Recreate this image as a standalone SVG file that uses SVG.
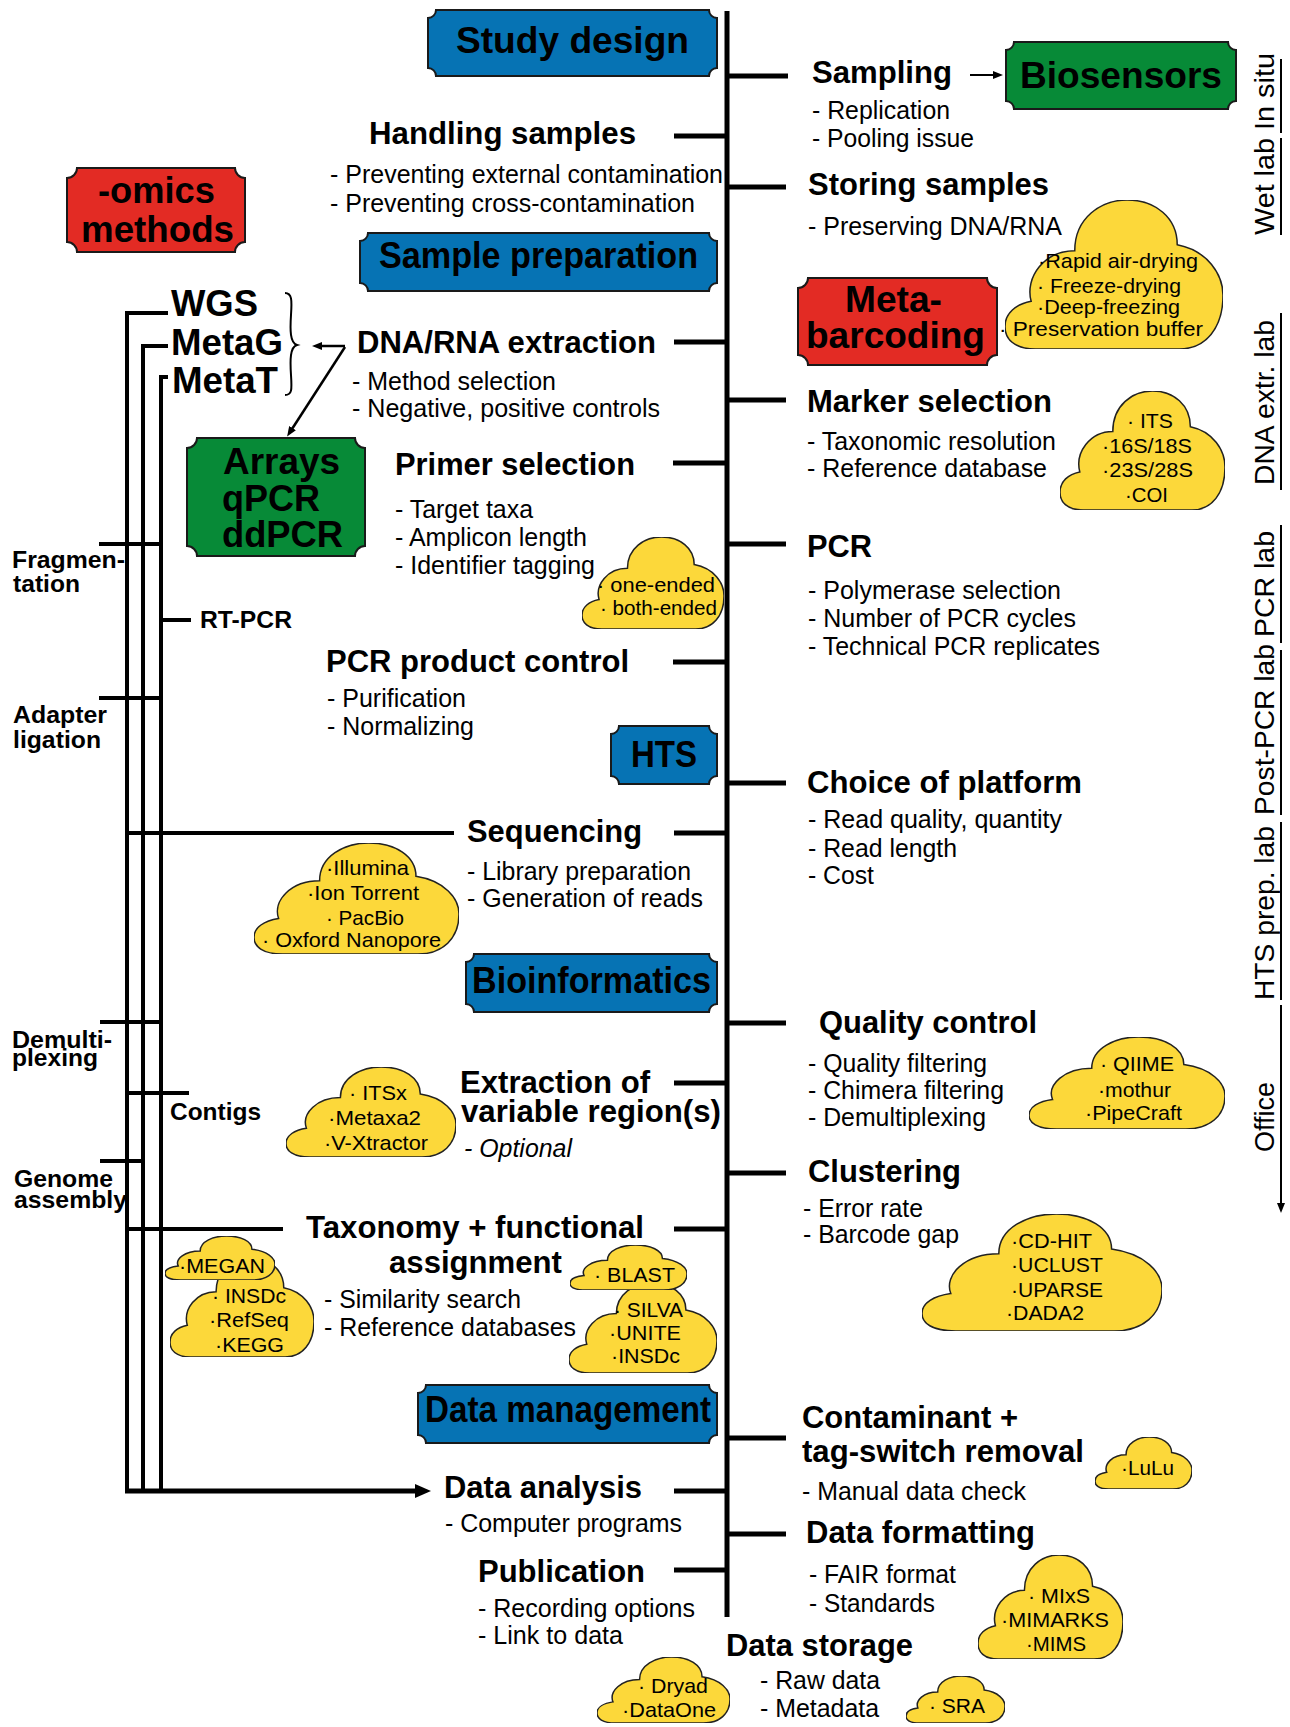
<svg xmlns="http://www.w3.org/2000/svg" xmlns:xlink="http://www.w3.org/1999/xlink" width="1290" height="1727" viewBox="0 0 1290 1727">
<style>
text{font-family:'Liberation Sans',Arial,sans-serif;fill:#000}
.h{font-weight:bold;font-size:31px}
.b{font-size:25px}
.c{font-size:21px}
.t{font-weight:bold;font-size:36px}
.l{font-weight:bold;font-size:24px}
.v{font-size:28px}
.ln{stroke:#000;stroke-width:5;fill:none}
.lv{stroke:#000;stroke-width:4;fill:none}
.th{stroke:#000;stroke-width:2.5;fill:none}
.vl{stroke:#000;stroke-width:2;fill:none}
.blue{fill:#0673B4;stroke:#1a1a1a;stroke-width:2}
.red{fill:#E32B24;stroke:#1a1a1a;stroke-width:2}
.green{fill:#078A37;stroke:#1a1a1a;stroke-width:2}
</style>
<defs>
<symbol id="cloud" viewBox="0 0 100 100" preserveAspectRatio="none">
<path d="M14,100 C4,100 0,93 0,85 C0,76 5,70 12,68 C9,52 18,34 32,34 C32,12 44,0 56,0 C69,0 79,12 79,30 C93,34 100,50 100,64 C100,86 92,100 80,100 Z" fill="#FCD83A" stroke="#222" stroke-width="1.5" vector-effect="non-scaling-stroke"/>
</symbol>
<marker id="arr" markerUnits="userSpaceOnUse" markerWidth="10" markerHeight="8" refX="1" refY="4" orient="auto"><path d="M0,0 L10,4 L0,8 Z" fill="#000"/></marker>
<marker id="arrBig" markerUnits="userSpaceOnUse" markerWidth="16" markerHeight="14" refX="2" refY="7" orient="auto"><path d="M0,0 L16,7 L0,14 Z" fill="#000"/></marker>
</defs>
<rect width="1290" height="1727" fill="#fff"/>

<g id="connectors">
<line class="ln" x1="727" y1="11" x2="727" y2="1617"/>
<!-- right branches -->
<line class="ln" x1="727" y1="76" x2="788" y2="76"/>
<line class="ln" x1="727" y1="187" x2="786" y2="187"/>
<line class="ln" x1="727" y1="400" x2="786" y2="400"/>
<line class="ln" x1="727" y1="544" x2="786" y2="544"/>
<line class="ln" x1="727" y1="783" x2="786" y2="783"/>
<line class="ln" x1="727" y1="1023" x2="786" y2="1023"/>
<line class="ln" x1="727" y1="1173" x2="786" y2="1173"/>
<line class="ln" x1="727" y1="1438" x2="786" y2="1438"/>
<line class="ln" x1="727" y1="1534" x2="786" y2="1534"/>
<!-- left branches -->
<line class="ln" x1="674" y1="136" x2="727" y2="136"/>
<line class="ln" x1="674" y1="342" x2="727" y2="342"/>
<line class="ln" x1="673" y1="463" x2="727" y2="463"/>
<line class="ln" x1="673" y1="662" x2="727" y2="662"/>
<line class="ln" x1="674" y1="833" x2="727" y2="833"/>
<line class="ln" x1="674" y1="1083" x2="727" y2="1083"/>
<line class="ln" x1="674" y1="1229" x2="727" y2="1229"/>
<line class="ln" x1="674" y1="1491" x2="727" y2="1491"/>
<line class="ln" x1="674" y1="1570" x2="727" y2="1570"/>
<!-- omics tree -->
<path class="lv" d="M168,313 H127 V1491"/>
<path class="lv" d="M168,346 H143 V1491"/>
<path class="lv" d="M168,377 H161 V1491"/>
<path class="ln" d="M125,1491 H417" marker-end="url(#arrBig)"/>
<line class="lv" x1="99" y1="544" x2="161" y2="544"/>
<line class="lv" x1="161" y1="620" x2="191" y2="620"/>
<line class="lv" x1="99" y1="698" x2="161" y2="698"/>
<line class="lv" x1="127" y1="833" x2="454" y2="833"/>
<line class="lv" x1="100" y1="1022" x2="161" y2="1022"/>
<line class="lv" x1="127" y1="1093" x2="189" y2="1093"/>
<line class="lv" x1="100" y1="1161" x2="143" y2="1161"/>
<line class="lv" x1="127" y1="1229" x2="283" y2="1229"/>
<!-- brace -->
<path class="vl" d="M285,293 C292,293 292,300 291,315 C290,330 290,343 297,345 C290,347 290,360 291,375 C292,390 292,395 285,395"/>
<!-- arrows -->
<line class="th" x1="345" y1="346" x2="321" y2="346" marker-end="url(#arr)"/>
<line class="th" x1="345" y1="347" x2="292" y2="429" marker-end="url(#arr)"/>
<line class="vl" x1="970" y1="75" x2="994" y2="75" marker-end="url(#arr)"/>
<!-- location bars -->
<line class="vl" x1="1281" y1="59" x2="1281" y2="133"/>
<line class="vl" x1="1281" y1="138" x2="1281" y2="235"/>
<line class="vl" x1="1281" y1="313" x2="1281" y2="490"/>
<line class="vl" x1="1281" y1="525" x2="1281" y2="643"/>
<line class="vl" x1="1281" y1="650" x2="1281" y2="815"/>
<line class="vl" x1="1281" y1="822" x2="1281" y2="1000"/>
<line class="vl" x1="1281" y1="1005" x2="1281" y2="1204" marker-end="url(#arr)"/>
</g>

<g id="box-study-design"><path class="blue" d="M436,10 H709 A8 8 0 0 0 717,18 V68 A8 8 0 0 0 709,76 H436 A8 8 0 0 0 428,68 V18 A8 8 0 0 0 436,10 Z"/><text class="t" x="456" y="53" textLength="233" lengthAdjust="spacingAndGlyphs">Study design</text></g>
<g id="box-sample-preparation"><path class="blue" d="M368,233 H709 A8 8 0 0 0 717,241 V283 A8 8 0 0 0 709,291 H368 A8 8 0 0 0 360,283 V241 A8 8 0 0 0 368,233 Z"/><text class="t" x="379" y="268" font-size="34" textLength="319" lengthAdjust="spacingAndGlyphs">Sample preparation</text></g>
<g id="box-hts"><path class="blue" d="M619,726 H709 A8 8 0 0 0 717,734 V776 A8 8 0 0 0 709,784 H619 A8 8 0 0 0 611,776 V734 A8 8 0 0 0 619,726 Z"/><text class="t" x="631" y="767" textLength="66" lengthAdjust="spacingAndGlyphs">HTS</text></g>
<g id="box-bioinformatics"><path class="blue" d="M474,954 H709 A8 8 0 0 0 717,962 V1004 A8 8 0 0 0 709,1012 H474 A8 8 0 0 0 466,1004 V962 A8 8 0 0 0 474,954 Z"/><text class="t" x="472" y="993" textLength="239" lengthAdjust="spacingAndGlyphs">Bioinformatics</text></g>
<g id="box-data-management"><path class="blue" d="M426,1385 H709 A8 8 0 0 0 717,1393 V1435 A8 8 0 0 0 709,1443 H426 A8 8 0 0 0 418,1435 V1393 A8 8 0 0 0 426,1385 Z"/><text class="t" x="425" y="1422" textLength="286" lengthAdjust="spacingAndGlyphs">Data management</text></g>
<g id="box-biosensors"><path class="green" d="M1014,42 H1228 A8 8 0 0 0 1236,50 V101 A8 8 0 0 0 1228,109 H1014 A8 8 0 0 0 1006,101 V50 A8 8 0 0 0 1014,42 Z"/><text class="t" x="1020" y="88" font-size="37" textLength="202" lengthAdjust="spacingAndGlyphs">Biosensors</text></g>
<g id="box-omics"><path class="red" d="M77,168 H235 A10 10 0 0 0 245,178 V242 A10 10 0 0 0 235,252 H77 A10 10 0 0 0 67,242 V178 A10 10 0 0 0 77,168 Z"/><text class="t" x="98" y="203" textLength="117" lengthAdjust="spacingAndGlyphs">-omics</text><text class="t" x="81" y="242" textLength="153" lengthAdjust="spacingAndGlyphs">methods</text></g>
<g id="box-metabarcoding"><path class="red" d="M808,278 H987 A10 10 0 0 0 997,288 V355 A10 10 0 0 0 987,365 H808 A10 10 0 0 0 798,355 V288 A10 10 0 0 0 808,278 Z"/><text class="t" x="845" y="312" textLength="97" lengthAdjust="spacingAndGlyphs">Meta-</text><text class="t" x="806" y="348" textLength="179" lengthAdjust="spacingAndGlyphs">barcoding</text></g>
<g id="box-arrays"><path class="green" d="M197,438 H355 A10 10 0 0 0 365,448 V546 A10 10 0 0 0 355,556 H197 A10 10 0 0 0 187,546 V448 A10 10 0 0 0 197,438 Z"/><text class="t" x="223" y="474" textLength="117" lengthAdjust="spacingAndGlyphs">Arrays</text><text class="t" x="222" y="511" textLength="98" lengthAdjust="spacingAndGlyphs">qPCR</text><text class="t" x="222" y="547" textLength="121" lengthAdjust="spacingAndGlyphs">ddPCR</text></g>

<g id="omics-types">
<text class="t" x="171" y="316" textLength="87" lengthAdjust="spacingAndGlyphs">WGS</text>
<text class="t" x="171" y="355" textLength="112" lengthAdjust="spacingAndGlyphs">MetaG</text>
<text class="t" x="172" y="393" textLength="106" lengthAdjust="spacingAndGlyphs">MetaT</text>
</g>
<g id="left-labels">
<text class="l" x="12" y="568" textLength="113" lengthAdjust="spacingAndGlyphs">Fragmen-</text>
<text class="l" x="13" y="592" textLength="67" lengthAdjust="spacingAndGlyphs">tation</text>
<text class="l" x="200" y="628" textLength="92" lengthAdjust="spacingAndGlyphs">RT-PCR</text>
<text class="l" x="13" y="723" textLength="94" lengthAdjust="spacingAndGlyphs">Adapter</text>
<text class="l" x="13" y="748" textLength="88" lengthAdjust="spacingAndGlyphs">ligation</text>
<text class="l" x="12" y="1048" textLength="100" lengthAdjust="spacingAndGlyphs">Demulti-</text>
<text class="l" x="12" y="1066" textLength="86" lengthAdjust="spacingAndGlyphs">plexing</text>
<text class="l" x="170" y="1120" textLength="91" lengthAdjust="spacingAndGlyphs">Contigs</text>
<text class="l" x="14" y="1187" textLength="99" lengthAdjust="spacingAndGlyphs">Genome</text>
<text class="l" x="14" y="1208" textLength="113" lengthAdjust="spacingAndGlyphs">assembly</text>
</g>

<g id="node-handling">
<text class="h" x="369" y="144" textLength="267" lengthAdjust="spacingAndGlyphs">Handling samples</text>
<text class="b" x="330" y="183" textLength="393" lengthAdjust="spacingAndGlyphs">- Preventing external contamination</text>
<text class="b" x="330" y="212" textLength="365" lengthAdjust="spacingAndGlyphs">- Preventing cross-contamination</text>
</g>
<g id="node-dna-extraction">
<text class="h" x="357" y="353" textLength="299" lengthAdjust="spacingAndGlyphs">DNA/RNA extraction</text>
<text class="b" x="352" y="390" textLength="204" lengthAdjust="spacingAndGlyphs">- Method selection</text>
<text class="b" x="352" y="417" textLength="308" lengthAdjust="spacingAndGlyphs">- Negative, positive controls</text>
</g>
<g id="node-primer">
<text class="h" x="395" y="475" textLength="240" lengthAdjust="spacingAndGlyphs">Primer selection</text>
<text class="b" x="395" y="518" textLength="138" lengthAdjust="spacingAndGlyphs">- Target taxa</text>
<text class="b" x="395" y="546" textLength="192" lengthAdjust="spacingAndGlyphs">- Amplicon length</text>
<text class="b" x="395" y="574" textLength="200" lengthAdjust="spacingAndGlyphs">- Identifier tagging</text>
</g>
<g id="node-pcr-product">
<text class="h" x="326" y="672" textLength="303" lengthAdjust="spacingAndGlyphs">PCR product control</text>
<text class="b" x="327" y="707" textLength="139" lengthAdjust="spacingAndGlyphs">- Purification</text>
<text class="b" x="327" y="735" textLength="147" lengthAdjust="spacingAndGlyphs">- Normalizing</text>
</g>
<g id="node-sequencing">
<text class="h" x="467" y="842" textLength="175" lengthAdjust="spacingAndGlyphs">Sequencing</text>
<text class="b" x="467" y="880" textLength="224" lengthAdjust="spacingAndGlyphs">- Library preparation</text>
<text class="b" x="467" y="907" textLength="236" lengthAdjust="spacingAndGlyphs">- Generation of reads</text>
</g>
<g id="node-extraction-region">
<text class="h" x="460" y="1093" textLength="190" lengthAdjust="spacingAndGlyphs">Extraction of</text>
<text class="h" x="461" y="1122" textLength="260" lengthAdjust="spacingAndGlyphs">variable region(s)</text>
<text class="b" x="464" y="1157" font-style="italic" textLength="108" lengthAdjust="spacingAndGlyphs">- Optional</text>
</g>
<g id="node-taxonomy">
<text class="h" x="306" y="1238" textLength="338" lengthAdjust="spacingAndGlyphs">Taxonomy + functional</text>
<text class="h" x="389" y="1273" textLength="173" lengthAdjust="spacingAndGlyphs">assignment</text>
<text class="b" x="324" y="1308" textLength="197" lengthAdjust="spacingAndGlyphs">- Similarity search</text>
<text class="b" x="324" y="1336" textLength="252" lengthAdjust="spacingAndGlyphs">- Reference databases</text>
</g>
<g id="node-data-analysis">
<text class="h" x="444" y="1498" textLength="198" lengthAdjust="spacingAndGlyphs">Data analysis</text>
<text class="b" x="445" y="1532" textLength="237" lengthAdjust="spacingAndGlyphs">- Computer programs</text>
</g>
<g id="node-publication">
<text class="h" x="478" y="1582" textLength="167" lengthAdjust="spacingAndGlyphs">Publication</text>
<text class="b" x="478" y="1617" textLength="217" lengthAdjust="spacingAndGlyphs">- Recording options</text>
<text class="b" x="478" y="1644" textLength="145" lengthAdjust="spacingAndGlyphs">- Link to data</text>
</g>

<g id="node-sampling">
<text class="h" x="812" y="83" textLength="140" lengthAdjust="spacingAndGlyphs">Sampling</text>
<text class="b" x="812" y="119" textLength="138" lengthAdjust="spacingAndGlyphs">- Replication</text>
<text class="b" x="812" y="147" textLength="162" lengthAdjust="spacingAndGlyphs">- Pooling issue</text>
</g>
<g id="node-storing">
<text class="h" x="808" y="195" textLength="241" lengthAdjust="spacingAndGlyphs">Storing samples</text>
<text class="b" x="808" y="235" textLength="254" lengthAdjust="spacingAndGlyphs">- Preserving DNA/RNA</text>
</g>
<g id="node-marker">
<text class="h" x="807" y="412" textLength="245" lengthAdjust="spacingAndGlyphs">Marker selection</text>
<text class="b" x="807" y="450" textLength="249" lengthAdjust="spacingAndGlyphs">- Taxonomic resolution</text>
<text class="b" x="807" y="477" textLength="240" lengthAdjust="spacingAndGlyphs">- Reference database</text>
</g>
<g id="node-pcr">
<text class="h" x="807" y="557" textLength="65" lengthAdjust="spacingAndGlyphs">PCR</text>
<text class="b" x="808" y="599" textLength="253" lengthAdjust="spacingAndGlyphs">- Polymerase selection</text>
<text class="b" x="808" y="627" textLength="268" lengthAdjust="spacingAndGlyphs">- Number of PCR cycles</text>
<text class="b" x="808" y="655" textLength="292" lengthAdjust="spacingAndGlyphs">- Technical PCR replicates</text>
</g>
<g id="node-platform">
<text class="h" x="807" y="793" textLength="275" lengthAdjust="spacingAndGlyphs">Choice of platform</text>
<text class="b" x="808" y="828" textLength="254" lengthAdjust="spacingAndGlyphs">- Read quality, quantity</text>
<text class="b" x="808" y="857" textLength="149" lengthAdjust="spacingAndGlyphs">- Read length</text>
<text class="b" x="808" y="884" textLength="66" lengthAdjust="spacingAndGlyphs">- Cost</text>
</g>
<g id="node-quality">
<text class="h" x="819" y="1033" textLength="218" lengthAdjust="spacingAndGlyphs">Quality control</text>
<text class="b" x="808" y="1072" textLength="179" lengthAdjust="spacingAndGlyphs">- Quality filtering</text>
<text class="b" x="808" y="1099" textLength="196" lengthAdjust="spacingAndGlyphs">- Chimera filtering</text>
<text class="b" x="808" y="1126" textLength="178" lengthAdjust="spacingAndGlyphs">- Demultiplexing</text>
</g>
<g id="node-clustering">
<text class="h" x="808" y="1182" textLength="153" lengthAdjust="spacingAndGlyphs">Clustering</text>
<text class="b" x="803" y="1217" textLength="120" lengthAdjust="spacingAndGlyphs">- Error rate</text>
<text class="b" x="803" y="1243" textLength="156" lengthAdjust="spacingAndGlyphs">- Barcode gap</text>
</g>
<g id="node-contaminant">
<text class="h" x="802" y="1428" textLength="216" lengthAdjust="spacingAndGlyphs">Contaminant +</text>
<text class="h" x="802" y="1462" textLength="282" lengthAdjust="spacingAndGlyphs">tag-switch removal</text>
<text class="b" x="802" y="1500" textLength="224" lengthAdjust="spacingAndGlyphs">- Manual data check</text>
</g>
<g id="node-formatting">
<text class="h" x="806" y="1543" textLength="229" lengthAdjust="spacingAndGlyphs">Data formatting</text>
<text class="b" x="809" y="1583" textLength="147" lengthAdjust="spacingAndGlyphs">- FAIR format</text>
<text class="b" x="809" y="1612" textLength="126" lengthAdjust="spacingAndGlyphs">- Standards</text>
</g>
<g id="node-storage">
<text class="h" x="726" y="1656" textLength="187" lengthAdjust="spacingAndGlyphs">Data storage</text>
<text class="b" x="760" y="1689" textLength="120" lengthAdjust="spacingAndGlyphs">- Raw data</text>
<text class="b" x="760" y="1717" textLength="119" lengthAdjust="spacingAndGlyphs">- Metadata</text>
</g>

<g id="cloud-storing"><use href="#cloud" x="1005" y="200" width="218" height="149"/>
<text class="c" x="1038" y="268" textLength="160" lengthAdjust="spacingAndGlyphs">·Rapid air-drying</text>
<text class="c" x="1037" y="293" textLength="144" lengthAdjust="spacingAndGlyphs">· Freeze-drying</text>
<text class="c" x="1037" y="314" textLength="143" lengthAdjust="spacingAndGlyphs">·Deep-freezing</text>
<text class="c" x="999" y="336" textLength="204" lengthAdjust="spacingAndGlyphs">· Preservation buffer</text></g>
<g id="cloud-marker"><use href="#cloud" x="1060" y="391" width="165" height="119"/>
<text class="c" x="1127" y="428" textLength="46" lengthAdjust="spacingAndGlyphs">· ITS</text>
<text class="c" x="1102" y="453" textLength="90" lengthAdjust="spacingAndGlyphs">·16S/18S</text>
<text class="c" x="1102" y="477" textLength="91" lengthAdjust="spacingAndGlyphs">·23S/28S</text>
<text class="c" x="1125" y="502" textLength="43" lengthAdjust="spacingAndGlyphs">·COI</text></g>
<g id="cloud-primer"><use href="#cloud" x="582" y="537" width="142" height="92"/>
<text class="c" x="597" y="592" textLength="118" lengthAdjust="spacingAndGlyphs">· one-ended</text>
<text class="c" x="600" y="615" textLength="117" lengthAdjust="spacingAndGlyphs">· both-ended</text></g>
<g id="cloud-platforms"><use href="#cloud" x="254" y="843" width="205" height="111"/>
<text class="c" x="326" y="875" textLength="83" lengthAdjust="spacingAndGlyphs">·Illumina</text>
<text class="c" x="307" y="900" textLength="112" lengthAdjust="spacingAndGlyphs">·Ion Torrent</text>
<text class="c" x="326" y="925" textLength="78" lengthAdjust="spacingAndGlyphs">· PacBio</text>
<text class="c" x="262" y="947" textLength="179" lengthAdjust="spacingAndGlyphs">· Oxford Nanopore</text></g>
<g id="cloud-itsx"><use href="#cloud" x="286" y="1067" width="170" height="90"/>
<text class="c" x="349" y="1100" textLength="58" lengthAdjust="spacingAndGlyphs">· ITSx</text>
<text class="c" x="328" y="1125" textLength="93" lengthAdjust="spacingAndGlyphs">·Metaxa2</text>
<text class="c" x="324" y="1150" textLength="104" lengthAdjust="spacingAndGlyphs">·V-Xtractor</text></g>
<g id="cloud-qiime"><use href="#cloud" x="1029" y="1037" width="196" height="92"/>
<text class="c" x="1100" y="1071" textLength="74" lengthAdjust="spacingAndGlyphs">· QIIME</text>
<text class="c" x="1098" y="1097" textLength="73" lengthAdjust="spacingAndGlyphs">·mothur</text>
<text class="c" x="1085" y="1120" textLength="97" lengthAdjust="spacingAndGlyphs">·PipeCraft</text></g>
<g id="cloud-clustering"><use href="#cloud" x="922" y="1214" width="240" height="117"/>
<text class="c" x="1011" y="1248" textLength="81" lengthAdjust="spacingAndGlyphs">·CD-HIT</text>
<text class="c" x="1011" y="1272" textLength="92" lengthAdjust="spacingAndGlyphs">·UCLUST</text>
<text class="c" x="1011" y="1297" textLength="92" lengthAdjust="spacingAndGlyphs">·UPARSE</text>
<text class="c" x="1006" y="1320" textLength="78" lengthAdjust="spacingAndGlyphs">·DADA2</text></g>
<g id="cloud-insdc"><use href="#cloud" x="170" y="1258" width="144" height="99"/>
<text class="c" x="212" y="1303" textLength="74" lengthAdjust="spacingAndGlyphs">· INSDc</text>
<text class="c" x="209" y="1327" textLength="80" lengthAdjust="spacingAndGlyphs">·RefSeq</text>
<text class="c" x="215" y="1352" textLength="69" lengthAdjust="spacingAndGlyphs">·KEGG</text></g>
<g id="cloud-megan"><use href="#cloud" x="165" y="1236" width="110" height="44"/>
<text class="c" x="179" y="1273" textLength="86" lengthAdjust="spacingAndGlyphs">·MEGAN</text></g>
<g id="cloud-silva"><use href="#cloud" x="569" y="1283" width="148" height="90"/>
<text class="c" x="614" y="1317" textLength="69" lengthAdjust="spacingAndGlyphs">· SILVA</text>
<text class="c" x="609" y="1340" textLength="72" lengthAdjust="spacingAndGlyphs">·UNITE</text>
<text class="c" x="611" y="1363" textLength="69" lengthAdjust="spacingAndGlyphs">·INSDc</text></g>
<g id="cloud-blast"><use href="#cloud" x="570" y="1245" width="117" height="45"/>
<text class="c" x="594" y="1282" textLength="81" lengthAdjust="spacingAndGlyphs">· BLAST</text></g>
<g id="cloud-lulu"><use href="#cloud" x="1095" y="1437" width="97" height="52"/>
<text class="c" x="1121" y="1475" textLength="53" lengthAdjust="spacingAndGlyphs">·LuLu</text></g>
<g id="cloud-mixs"><use href="#cloud" x="978" y="1555" width="145" height="104"/>
<text class="c" x="1028" y="1603" textLength="62" lengthAdjust="spacingAndGlyphs">· MIxS</text>
<text class="c" x="1001" y="1627" textLength="108" lengthAdjust="spacingAndGlyphs">·MIMARKS</text>
<text class="c" x="1026" y="1651" textLength="60" lengthAdjust="spacingAndGlyphs">·MIMS</text></g>
<g id="cloud-dryad"><use href="#cloud" x="597" y="1657" width="133" height="66"/>
<text class="c" x="638" y="1693" textLength="70" lengthAdjust="spacingAndGlyphs">· Dryad</text>
<text class="c" x="622" y="1717" textLength="94" lengthAdjust="spacingAndGlyphs">·DataOne</text></g>
<g id="cloud-sra"><use href="#cloud" x="906" y="1676" width="99" height="47"/>
<text class="c" x="929" y="1713" textLength="56" lengthAdjust="spacingAndGlyphs">· SRA</text></g>

<g id="locations">
<text class="v" transform="translate(1274,130) rotate(-90)" textLength="77" lengthAdjust="spacingAndGlyphs">In situ</text>
<text class="v" transform="translate(1274,235) rotate(-90)" textLength="97" lengthAdjust="spacingAndGlyphs">Wet lab</text>
<text class="v" transform="translate(1274,485) rotate(-90)" textLength="165" lengthAdjust="spacingAndGlyphs">DNA extr. lab</text>
<text class="v" transform="translate(1274,637) rotate(-90)" textLength="106" lengthAdjust="spacingAndGlyphs">PCR lab</text>
<text class="v" transform="translate(1274,815) rotate(-90)" textLength="171" lengthAdjust="spacingAndGlyphs">Post-PCR lab</text>
<text class="v" transform="translate(1274,1000) rotate(-90)" textLength="174" lengthAdjust="spacingAndGlyphs">HTS prep. lab</text>
<text class="v" transform="translate(1274,1152) rotate(-90)" textLength="70" lengthAdjust="spacingAndGlyphs">Office</text>
</g>
</svg>
